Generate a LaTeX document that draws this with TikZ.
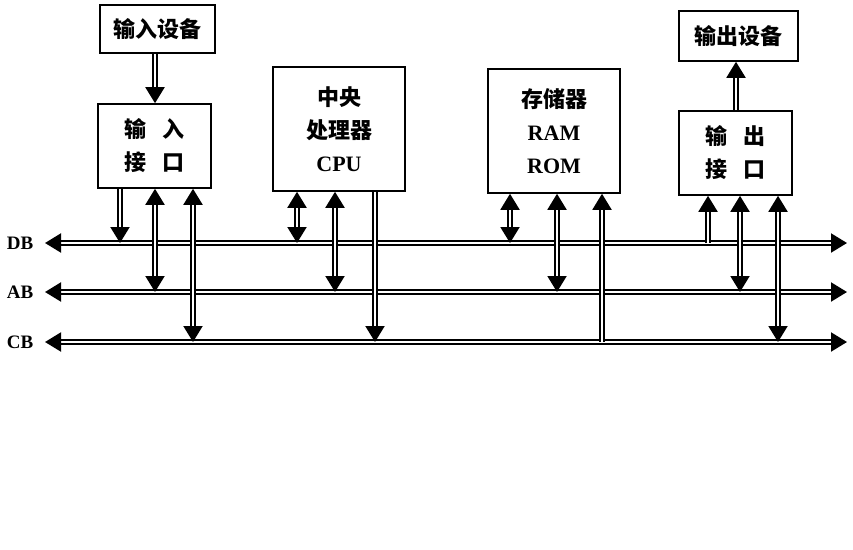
\documentclass[tikz,border=0pt]{standalone}
\usepackage{fontspec}
\setmainfont{Liberation Serif}
\newfontfamily\cjk{Noto Sans CJK SC}
\usetikzlibrary{arrows.meta}
\begin{document}
\begin{tikzpicture}[x=1pt,y=-1pt,
  box/.style={draw,line width=1.6pt,inner sep=0pt,align=center,
    font=\bfseries\fontsize{22}{33}\selectfont},
  lbl/.style={font=\bfseries\fontsize{19}{22}\selectfont,inner sep=0pt},
  pipe/.style={draw,line width=2pt,double,double distance=2.3pt},
  tip/.tip={Triangle[length=16pt,width=19pt]},
  one/.style={pipe,-tip},
  two/.style={pipe,tip-tip}]
\useasboundingbox (0,0) rectangle (853,549);

% boxes
\node[box,minimum width=115pt,minimum height=48pt] (indev) at (157.5,29) {\cjk 输入设备};
\node[box,minimum width=113pt,minimum height=84pt] (inif) at (154.5,146) {\cjk 输\hspace{0.75em}入\\\cjk 接\hspace{0.75em}口};
\node[box,minimum width=132pt,minimum height=124pt] (cpu) at (339,129) {\cjk 中央\\\cjk 处理器\\CPU};
\node[box,minimum width=132pt,minimum height=124pt] (mem) at (554,131) {\cjk 存储器\\RAM\\ROM};
\node[box,minimum width=119pt,minimum height=50pt] (outdev) at (738.5,36) {\cjk 输出设备};
\node[box,minimum width=113pt,minimum height=84pt] (outif) at (735.5,153) {\cjk 输\hspace{0.75em}出\\\cjk 接\hspace{0.75em}口};

% bus labels and ends
\node[lbl] (dbl) at (20,243) {DB};
\node[lbl] (abl) at (20,292) {AB};
\node[lbl] (cbl) at (20,342) {CB};
\coordinate (dbA) at (45,243);  \coordinate (dbB) at (847,243);
\coordinate (abA) at (45,292);  \coordinate (abB) at (847,292);
\coordinate (cbA) at (45,342);  \coordinate (cbB) at (847,342);
\draw[two] (dbA) -- (dbB);
\draw[two] (abA) -- (abB);
\draw[two] (cbA) -- (cbB);

% device links
\draw[one] (indev.south -| 155,0) -- (inif.north -| 155,0);
\draw[one] (outif.north -| 736,0) -- (outdev.south -| 736,0);

% bus taps
\coordinate (p1) at (120,243);
\coordinate (p2) at (155,292);
\coordinate (p3) at (193,342);
\coordinate (p4) at (297,243);
\coordinate (p5) at (335,292);
\coordinate (p6) at (375,342);
\coordinate (p7) at (510,243);
\coordinate (p8) at (557,292);
\coordinate (p9) at (602,342);
\coordinate (p10) at (708,243);
\coordinate (p11) at (740,292);
\coordinate (p12) at (778,342);

\draw[one] (p1 |- inif.south) -- (p1);
\draw[two] (p2 |- inif.south) -- (p2);
\draw[two] (p3 |- inif.south) -- (p3);
\draw[two] (p4 |- cpu.south) -- (p4);
\draw[two] (p5 |- cpu.south) -- (p5);
\draw[one] (p6 |- cpu.south) -- (p6);
\draw[two] (p7 |- mem.south) -- (p7);
\draw[two] (p8 |- mem.south) -- (p8);
\draw[one] (p9) -- (p9 |- mem.south);
\draw[one] (p10) -- (p10 |- outif.south);
\draw[two] (p11 |- outif.south) -- (p11);
\draw[two] (p12 |- outif.south) -- (p12);
\end{tikzpicture}
\end{document}
